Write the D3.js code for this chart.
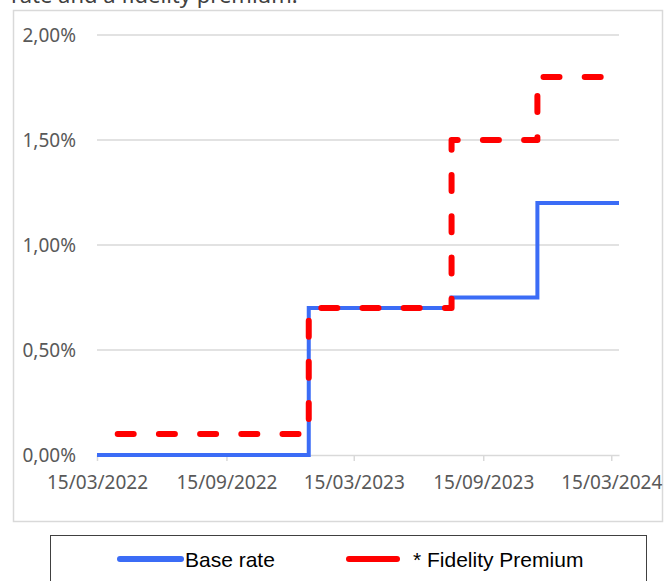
<!DOCTYPE html>
<html lang="en">
<head>
    <meta charset="utf-8" />
    <title>Base rate and fidelity premium</title>
    <style>
        /* white page, chart drawn into one fixed-size svg */
        body {
            margin: 0;
            background: #fff;
            overflow: hidden;
        }
        svg {
            display: block;
        }
    </style>
</head>
<body>
<svg id="chart"></svg>

<script src="https://cdn.jsdelivr.net/npm/d3@7/dist/d3.min.js"></script>
<script>
    // Step dates (change points) and rates in %
    const stepDates = ["2022-03-15", "2023-01-10", "2023-08-01", "2023-12-01", "2024-03-26"];
    const baseRate = [0.00, 0.70, 0.75, 1.20, 1.20];
    const fidelityPremium = [0.10, 0.70, 1.50, 1.80, 1.80];

    // Axis ticks
    const xTickDates = ["2022-03-15", "2022-09-15", "2023-03-15", "2023-09-15", "2024-03-15"];
    const yTicks = [0, 0.5, 1.0, 1.5, 2.0];

    const legendLabels = ["Base rate", "* Fidelity Premium"];

    const width = 672;
    const height = 581;
    const parse = d3.utcParse("%Y-%m-%d");
    const fmtDate = d3.utcFormat("%d/%m/%Y");
    const fmtPct = v => v.toFixed(2).replace(".", ",") + "%";

    const svg = d3.select("#chart")
        .attr("width", width)
        .attr("height", height);

    // Title line, mostly cut off at the top of the picture
    svg.append("text")
        .attr("x", 11)
        .attr("y", 3)
        .attr("font-family", "Noto Sans, sans-serif")
        .attr("font-size", 22)
        .attr("fill", "#404040")
        .text("rate and a fidelity premium.");

    // Chart area border
    svg.append("rect")
        .attr("x", 13.5).attr("y", 10.5)
        .attr("width", 649).attr("height", 511)
        .attr("fill", "#fff")
        .attr("stroke", "#d9d9d9")
        .attr("stroke-width", 1.5);

    const x = d3.scaleUtc()
        .domain([parse(stepDates[0]), parse(stepDates[stepDates.length - 1])])
        .range([97, 619]);

    const y = d3.scaleLinear()
        .domain([0, 2])
        .range([455, 35]);

    // Horizontal gridlines (skip 0, drawn by the x axis)
    svg.append("g")
        .selectAll("line")
        .data(yTicks.filter(d => d > 0))
        .join("line")
        .attr("x1", x.range()[0]).attr("x2", x.range()[1])
        .attr("y1", d => y(d)).attr("y2", d => y(d))
        .attr("stroke", "#d9d9d9")
        .attr("stroke-width", 1.5);

    // Y axis labels
    const yAxis = d3.axisLeft(y)
        .tickValues(yTicks)
        .tickFormat(fmtPct)
        .tickSize(0)
        .tickPadding(21);
    const gy = svg.append("g")
        .attr("transform", `translate(${x.range()[0]},0)`)
        .call(yAxis);
    gy.select(".domain").remove();
    gy.selectAll("text")
        .attr("font-family", "Noto Sans, sans-serif")
        .attr("font-size", 19)
        .attr("fill", "#595959");

    // X axis with small downward ticks
    const xAxis = d3.axisBottom(x)
        .tickValues(xTickDates.map(parse))
        .tickFormat(fmtDate)
        .tickSizeInner(6)
        .tickSizeOuter(0)
        .tickPadding(15);
    const gx = svg.append("g")
        .attr("transform", `translate(0,${y(0)})`)
        .call(xAxis);
    gx.select(".domain")
        .attr("stroke", "#d9d9d9")
        .attr("stroke-width", 1.5);
    gx.selectAll(".tick line")
        .attr("stroke", "#d9d9d9")
        .attr("stroke-width", 1.5);
    gx.selectAll("text")
        .attr("font-family", "Noto Sans, sans-serif")
        .attr("font-size", 19)
        .attr("fill", "#595959");

    const line = d3.line()
        .x(d => x(d.date))
        .y(d => y(d.value))
        .curve(d3.curveStepAfter);

    const baseData = stepDates.map((d, i) => ({ date: parse(d), value: baseRate[i] }));
    const premData = stepDates.map((d, i) => ({ date: parse(d), value: fidelityPremium[i] }));

    svg.append("path")
        .datum(baseData)
        .attr("d", line)
        .attr("fill", "none")
        .attr("stroke", "#3b6cf6")
        .attr("stroke-width", 4);

    // dash phase tuned so the dashes sit where Excel put them
    svg.append("path")
        .datum(premData)
        .attr("d", line)
        .attr("fill", "none")
        .attr("stroke", "#ff0000")
        .attr("stroke-width", 6)
        .attr("stroke-linecap", "round")
        .attr("stroke-linejoin", "round")
        .attr("stroke-dasharray", "16 25.2")
        .attr("stroke-dashoffset", 20.5);

    // Legend box
    svg.append("rect")
        .attr("x", 50.5).attr("y", 535.5)
        .attr("width", 596).attr("height", 60)
        .attr("fill", "#fff")
        .attr("stroke", "#404040")
        .attr("stroke-width", 1);

    const legendItems = [
        { label: legendLabels[0], color: "#3b6cf6", x1: 120, x2: 181, tx: 185 },
        { label: legendLabels[1], color: "#ff0000", x1: 349, x2: 397, tx: 413 }
    ];
    const lg = svg.append("g")
        .selectAll("g")
        .data(legendItems)
        .join("g");
    lg.append("line")
        .attr("x1", d => d.x1).attr("x2", d => d.x2)
        .attr("y1", 559).attr("y2", 559)
        .attr("stroke", d => d.color)
        .attr("stroke-width", 6)
        .attr("stroke-linecap", "round");
    lg.append("text")
        .attr("x", d => d.tx)
        .attr("y", 566.5)
        .attr("font-family", "Liberation Sans, Arial, sans-serif")
        .attr("font-size", 21)
        .attr("fill", "#000")
        .text(d => d.label);
</script>
</body>
</html>
